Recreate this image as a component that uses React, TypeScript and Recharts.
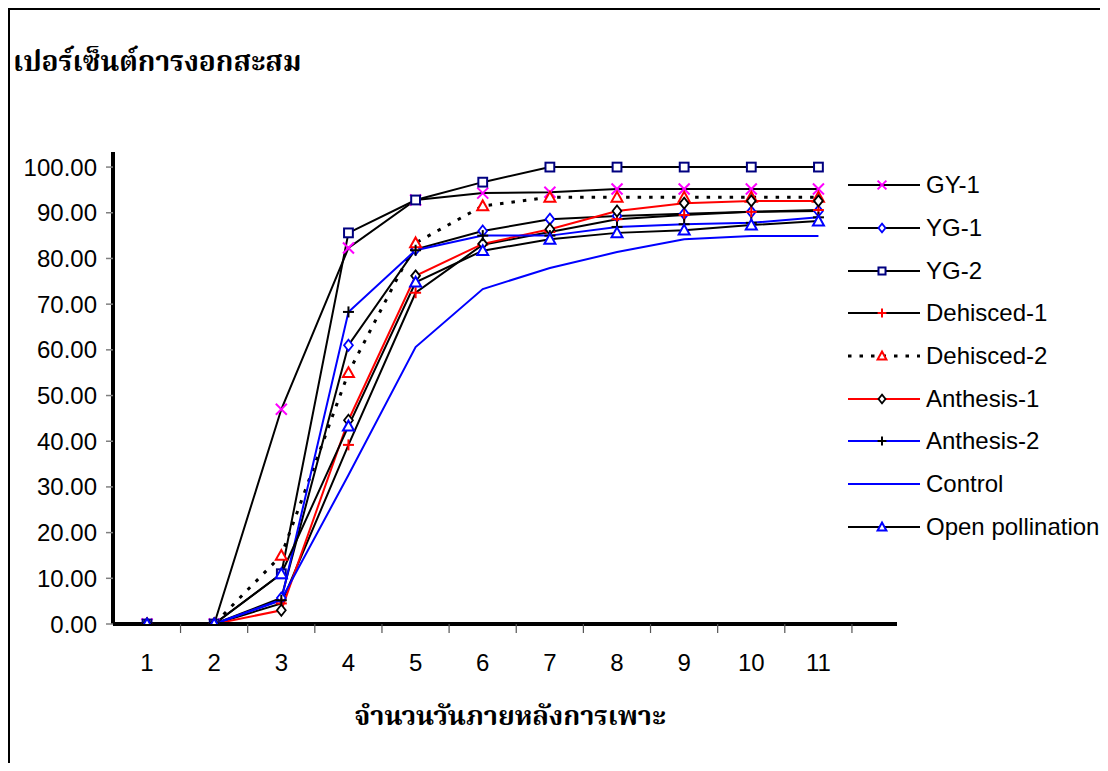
import React from "react";
import { LineChart, Line, XAxis, YAxis } from "recharts";

const days = [1, 2, 3, 4, 5, 6, 7, 8, 9, 10, 11];
const gy1 = [0, 0, 47, 82.3, 92.8, 94.3, 94.5, 95.2, 95.2, 95.2, 95.2];
const yg1 = [0, 0, 5.7, 61, 82, 86, 88.6, 89.3, 89.8, 90.2, 90.4];
const yg2 = [0, 0, 11, 85.6, 92.8, 96.7, 100, 100, 100, 100, 100];
const dehisced1 = [0, 0, 4.5, 39.2, 72.5, 83, 85.8, 88.6, 89.5, 90.2, 90.6];
const dehisced2 = [0, 0, 15, 55, 83.4, 91.5, 93.4, 93.4, 93.4, 93.4, 93.4];
const anthesis1 = [0, 0, 3, 44.6, 76.2, 83.2, 86.4, 90.4, 92.1, 92.6, 92.6];
const anthesis2 = [0, 0, 5.2, 68.3, 81.8, 85, 85, 86.9, 87.5, 87.8, 89];
const control = [0, 0, 5.3, 32.6, 60.6, 73.3, 77.9, 81.4, 84.2, 84.9, 84.9];
const openPollination = [0, 0, 11, 43.3, 74.8, 81.7, 84.2, 85.6, 86.2, 87.3, 88.2];
const yTicks = [0, 10, 20, 30, 40, 50, 60, 70, 80, 90, 100];

const title = "เปอร์เซ็นต์การงอกสะสม";
const xTitle = "จำนวนวันภายหลังการเพาะ";

const data = days.map((d, i) => ({
  day: d,
  gy1: gy1[i],
  yg1: yg1[i],
  yg2: yg2[i],
  dehisced1: dehisced1[i],
  dehisced2: dehisced2[i],
  anthesis1: anthesis1[i],
  anthesis2: anthesis2[i],
  control: control[i],
  open: openPollination[i],
}));

type Shape = "x" | "diamond" | "square" | "plus" | "triangle" | "none";

const series: { key: string; name: string; line: string; dash?: string; shape: Shape; mark: string }[] = [
  { key: "gy1", name: "GY-1", line: "#000", shape: "x", mark: "#FF00FF" },
  { key: "yg1", name: "YG-1", line: "#000", shape: "diamond", mark: "#0000FF" },
  { key: "yg2", name: "YG-2", line: "#000", shape: "square", mark: "#000080" },
  { key: "dehisced1", name: "Dehisced-1", line: "#000", shape: "plus", mark: "#FF0000" },
  { key: "dehisced2", name: "Dehisced-2", line: "#000", dash: "3.5 8", shape: "triangle", mark: "#FF0000" },
  { key: "anthesis1", name: "Anthesis-1", line: "#FF0000", shape: "diamond", mark: "#000" },
  { key: "anthesis2", name: "Anthesis-2", line: "#0000FF", shape: "plus", mark: "#000" },
  { key: "control", name: "Control", line: "#0000FF", shape: "none", mark: "#0000FF" },
  { key: "open", name: "Open pollination", line: "#000", shape: "triangle", mark: "#0000FF" },
];

function Marker({ shape, color, cx, cy, s = 1 }: { shape: Shape; color: string; cx: number; cy: number; s?: number }) {
  const r = 5.5 * s;
  switch (shape) {
    case "x":
      return (
        <g stroke={color} strokeWidth={2}>
          <line x1={cx - r} y1={cy - r} x2={cx + r} y2={cy + r} />
          <line x1={cx - r} y1={cy + r} x2={cx + r} y2={cy - r} />
        </g>
      );
    case "plus":
      return (
        <g stroke={color} strokeWidth={2}>
          <line x1={cx - r} y1={cy} x2={cx + r} y2={cy} />
          <line x1={cx} y1={cy - r} x2={cx} y2={cy + r} />
        </g>
      );
    case "diamond":
      return (
        <polygon
          points={`${cx},${cy - r} ${cx + r * 0.8},${cy} ${cx},${cy + r} ${cx - r * 0.8},${cy}`}
          fill="#fff"
          stroke={color}
          strokeWidth={1.8}
        />
      );
    case "square":
      return <rect x={cx - r * 0.8} y={cy - r * 0.8} width={r * 1.6} height={r * 1.6} fill="#fff" stroke={color} strokeWidth={2} />;
    case "triangle":
      return (
        <polygon
          points={`${cx},${cy - r} ${cx + r},${cy + r * 0.8} ${cx - r},${cy + r * 0.8}`}
          fill="#fff"
          stroke={color}
          strokeWidth={2}
        />
      );
    default:
      return null;
  }
}

const makeDot = (shape: Shape, color: string) => (props: any) => {
  const { cx, cy, index } = props;
  if (shape === "none" || cx == null || cy == null) return <g key={index} />;
  return (
    <g key={`${shape}-${index}`}>
      <Marker shape={shape} color={color} cx={cx} cy={cy} />
    </g>
  );
};

const XTick = (props: any) => {
  const { x, y, payload } = props;
  return (
    <g>
      <line x1={x + 33.5} x2={x + 33.5} y1={y} y2={y + 9} stroke="#555" strokeWidth={1.2} />
      <text x={x} y={y + 47} textAnchor="middle" fontSize={24} fill="#000" fontFamily="'Liberation Sans', Arial, sans-serif">
        {payload.value}
      </text>
    </g>
  );
};

export default function App() {
  return (
    <div
      style={{
        position: "relative",
        width: 1090,
        height: 753,
        borderTop: "2px solid #000",
        borderLeft: "2px solid #000",
        background: "#fff",
      }}
    >
      <div
        style={{
          position: "absolute",
          left: 3,
          top: 31,
          fontSize: 28,
          fontWeight: "bold",
          fontFamily: "'Noto Serif Thai', 'Noto Sans Thai', serif",
          whiteSpace: "nowrap",
        }}
      >
        {title}
      </div>

      <LineChart width={1090} height={753} data={data} margin={{ top: 142, right: 203, left: 0, bottom: 79 }}>
        <XAxis
          dataKey="day"
          type="number"
          domain={[0.493, 12.17]}
          allowDataOverflow
          ticks={days}
          interval={0}
          tickLine={false}
          tickSize={0}
          tickMargin={0}
          height={60}
          axisLine={{ stroke: "#000", strokeWidth: 4 }}
          tick={<XTick />}
        />
        <YAxis
          type="number"
          domain={[0, 103.3]}
          allowDataOverflow
          ticks={yTicks}
          interval={0}
          width={103}
          tickSize={7}
          tickMargin={9}
          tickFormatter={(v: number) => v.toFixed(2)}
          tickLine={{ stroke: "#808080", strokeWidth: 1.5 }}
          axisLine={{ stroke: "#000", strokeWidth: 4 }}
          tick={{ fontSize: 24, fill: "#000", fontFamily: "'Liberation Sans', Arial, sans-serif" }}
        />
        {series.map((s) => (
          <Line
            key={s.key}
            type="linear"
            dataKey={s.key}
            name={s.name}
            stroke={s.line}
            strokeWidth={s.dash ? 3 : 2}
            strokeDasharray={s.dash}
            dot={makeDot(s.shape, s.mark)}
            activeDot={false}
            isAnimationActive={false}
          />
        ))}
      </LineChart>

      <div style={{ position: "absolute", left: 838, top: 154 }}>
        {series.map((s) => (
          <div key={s.key} style={{ display: "flex", alignItems: "center", height: 42.7 }}>
            <svg width={72} height={20} style={{ display: "block" }}>
              <line x1={0} x2={72} y1={10} y2={10} stroke={s.line} strokeWidth={s.dash ? 3 : 2} strokeDasharray={s.dash} />
              <Marker shape={s.shape} color={s.mark} cx={34} cy={10} s={0.8} />
            </svg>
            <span
              style={{
                marginLeft: 6,
                fontSize: 24,
                fontFamily: "'Liberation Sans', Arial, sans-serif",
                color: "#000",
                whiteSpace: "nowrap",
              }}
            >
              {s.name}
            </span>
          </div>
        ))}
      </div>

      <div
        style={{
          position: "absolute",
          left: 300,
          width: 400,
          top: 686,
          textAlign: "center",
          fontSize: 27,
          fontWeight: "bold",
          fontFamily: "'Noto Serif Thai', 'Noto Sans Thai', serif",
          whiteSpace: "nowrap",
        }}
      >
        {xTitle}
      </div>
    </div>
  );
}
